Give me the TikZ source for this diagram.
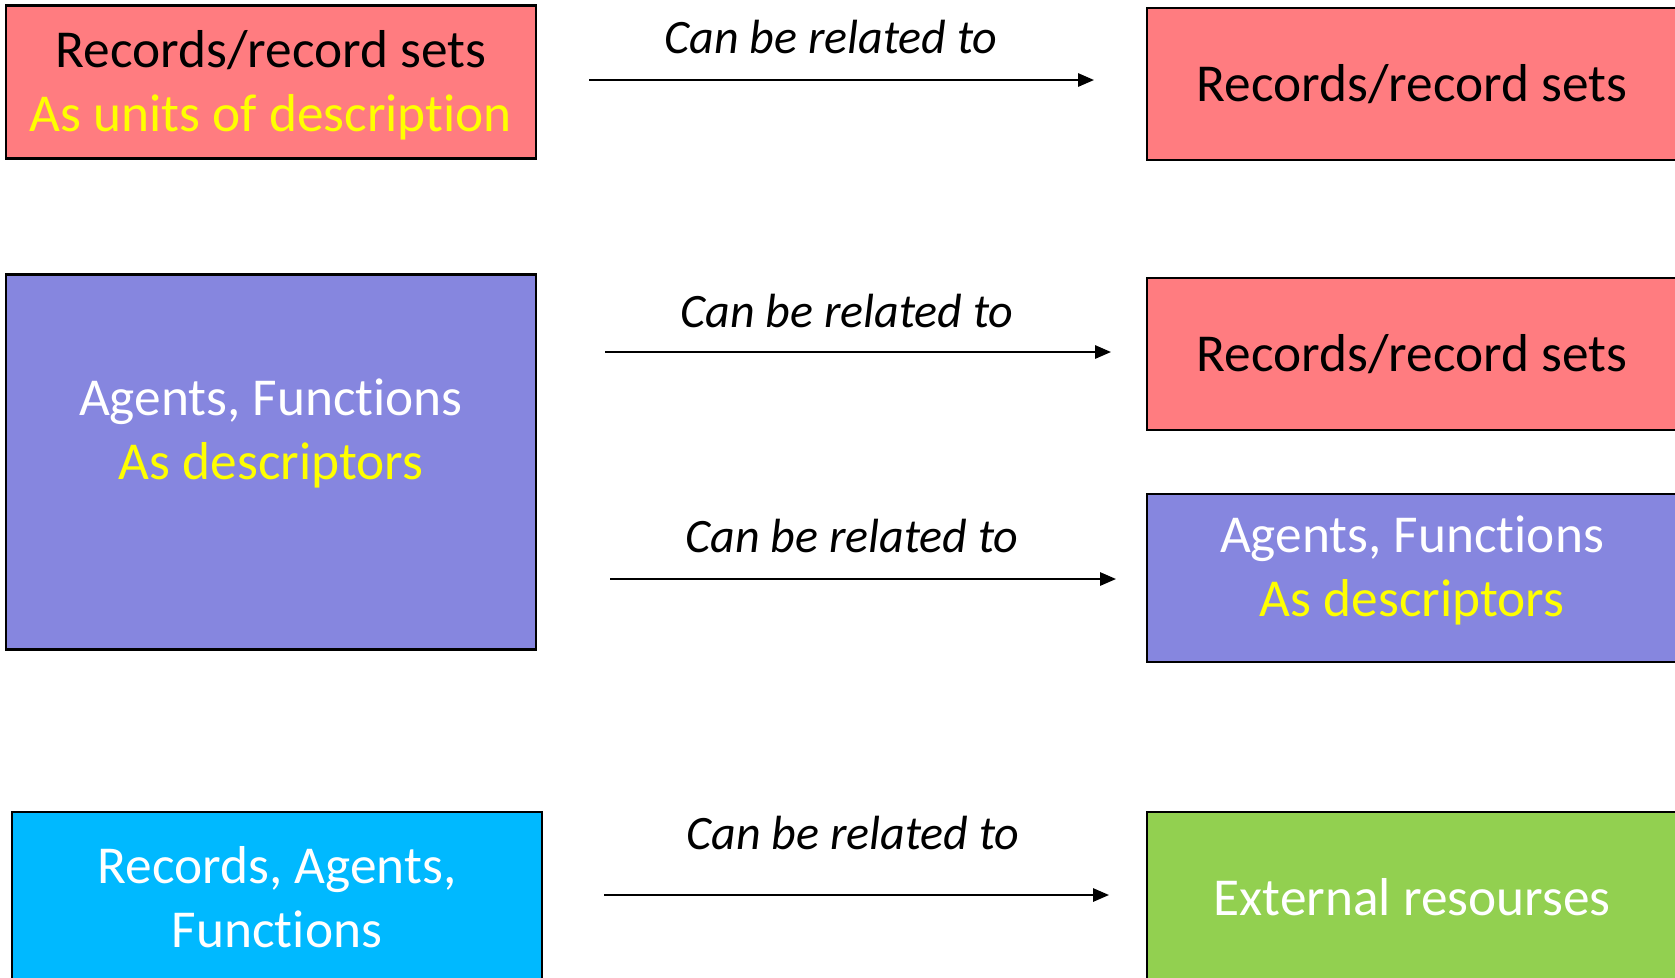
\documentclass[tikz,border=0pt]{standalone}
\usepackage{fontspec}
\setmainfont{Carlito}[RawFeature={-liga;-clig;-calt;-dlig}]
\usepackage{xcolor}
\usetikzlibrary{positioning}
\usetikzlibrary{arrows.meta}
\definecolor{recred}{HTML}{FF7C80}
\definecolor{agentblue}{HTML}{8686DF}
\definecolor{allcyan}{HTML}{00B9FF}
\definecolor{extgreen}{HTML}{92D050}
\definecolor{descyellow}{HTML}{FFFF00}
\tikzset{mybox/.style={draw=black, line width=0.8pt, rectangle, align=center,
inner sep=0pt, minimum width=198.75pt, font=\fontsize{20}{24}\selectfont},
rel/.style={-{Triangle[length=6pt, width=5pt]}, line width=0.75pt},
rellabel/.style={font=\fontsize{18}{21}\selectfont\itshape}}

\begin{document}
\begin{tikzpicture}[x=0.375pt, y=-0.375pt]
			\useasboundingbox (0,0) rectangle (1675,977);
			% left column
			\node[mybox, fill=recred, minimum height=57.4pt, text depth=1pt] (recunits) at (271,82)
				{Records/record sets\\\textcolor{descyellow}{As units of description}};
			\node[mybox, fill=agentblue, text=white, minimum height=140.6pt, text depth=25pt] (agents) at (271,462)
				{Agents, Functions\\\textcolor{descyellow}{As descriptors}};
			\node[mybox, fill=allcyan, text=white, minimum height=63.75pt] (all) at (277,897)
				{Records, Agents,\\Functions};
			% right column
			\node[mybox, fill=recred, minimum height=57pt] (rec1) at (1412,84) {Records/record sets};
			\node[mybox, fill=recred, minimum height=57.2pt] (rec2) at (1412,354) {Records/record sets};
			\node[mybox, fill=agentblue, text=white, minimum height=63.2pt, text depth=9pt] (agents2) at (1412,578)
				{Agents, Functions\\\textcolor{descyellow}{As descriptors}};
			\node[mybox, fill=extgreen, text=white, minimum height=63.75pt] (ext) at (1412,897) {External resourses};
			% relations
			\coordinate (s1) at (589,80);   \coordinate (e1) at (1094,80);
			\coordinate (s2) at (605,352);  \coordinate (e2) at (1111,352);
			\coordinate (s3) at (610,579);  \coordinate (e3) at (1116,579);
			\coordinate (s4) at (604,895);  \coordinate (e4) at (1109,895);
			\draw[rel] (s1)--(e1);
			\draw[rel] (s2)--(e2);
			\draw[rel] (s3)--(e3);
			\draw[rel] (s4)--(e4);
			\node[rellabel] (l1) at (831,37) {Can be related to};
			\node[rellabel] (l2) at (847,311) {Can be related to};
			\node[rellabel] (l3) at (852,536) {Can be related to};
			\node[rellabel] (l4) at (853,833) {Can be related to};
\end{tikzpicture}
\end{document}
